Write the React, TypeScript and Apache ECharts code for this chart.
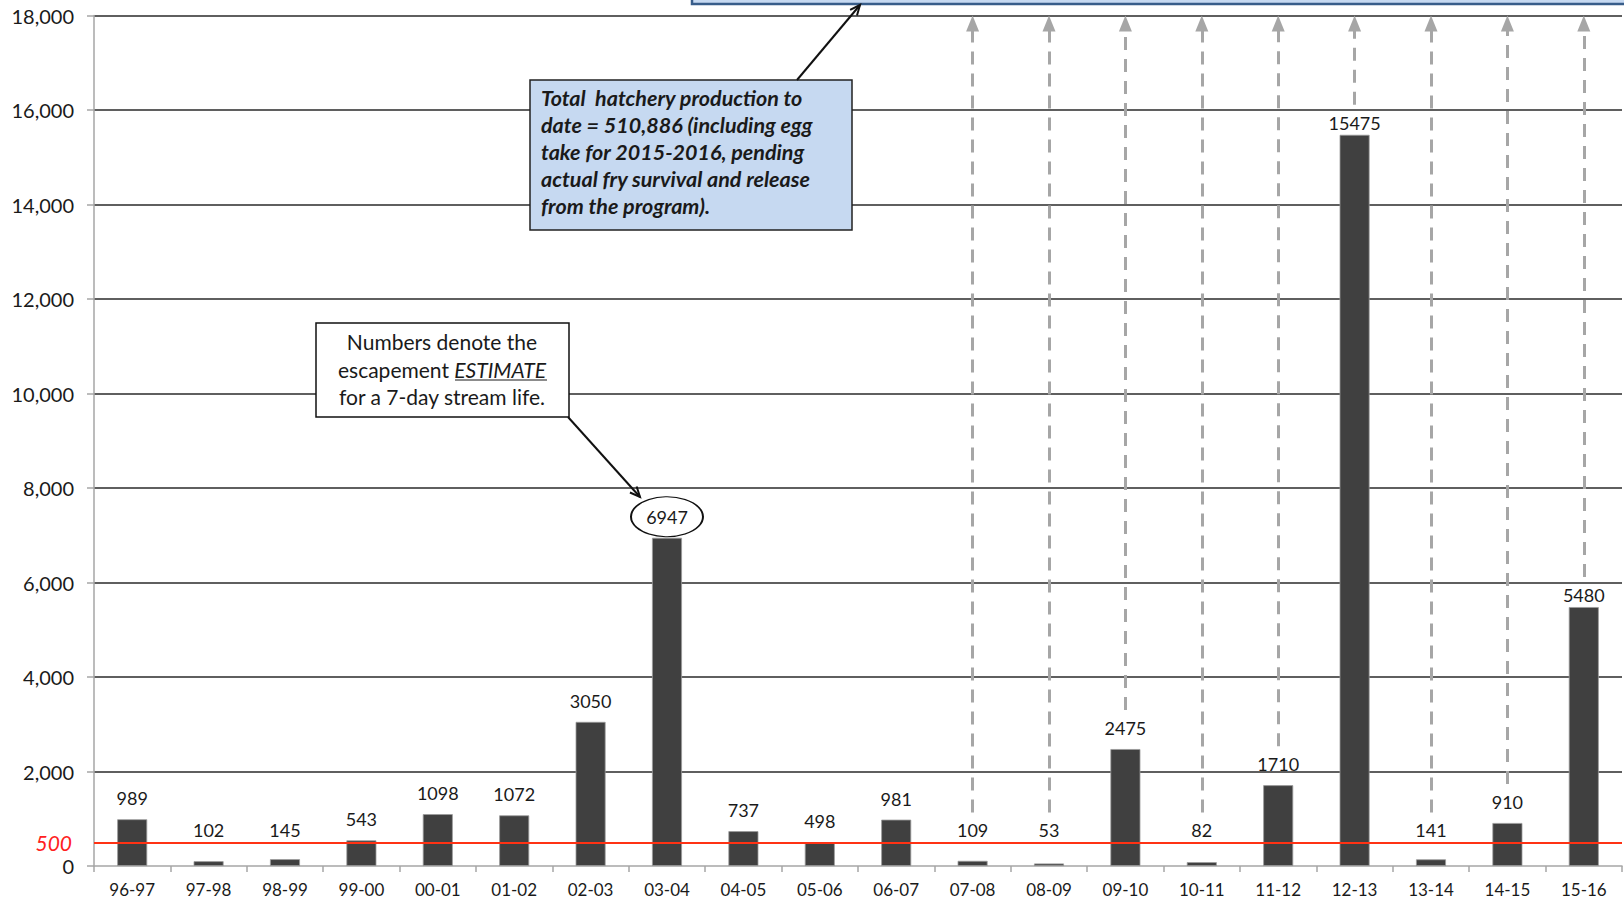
import React, { useEffect, useRef } from "react";
import * as echarts from "echarts";

// ---- data ----
const categories = [
  "96-97", "97-98", "98-99", "99-00", "00-01", "01-02", "02-03", "03-04", "04-05", "05-06",
  "06-07", "07-08", "08-09", "09-10", "10-11", "11-12", "12-13", "13-14", "14-15", "15-16",
];
const escapement = [
  989, 102, 145, 543, 1098, 1072, 3050, 6947, 737, 498,
  981, 109, 53, 2475, 82, 1710, 15475, 141, 910, 5480,
];
const threshold = 500;
const yMin = 0;
const yMax = 18000;
const yInterval = 2000;
const hatcheryCategories = ["07-08", "08-09", "09-10", "10-11", "11-12", "12-13", "13-14", "14-15", "15-16"];
const circledCategory = "03-04";
const tightLabelCategories = ["12-13", "15-16"];
const hatcheryNote = [
  "Total  hatchery production to",
  "date = 510,886 (including egg",
  "take for 2015-2016, pending",
  "actual fry survival and release",
  "from the program).",
];
const estimateNote = ["Numbers denote the", "escapement {it|ESTIMATE}", "for a 7-day stream life."];

// ---- layout ----
const W = 1624;
const H = 899;
const GRID = { left: 94, right: 2, top: 15.5, bottom: 33 };
const FONT = "Lato, 'Noto Sans', sans-serif";
const plotH = H - GRID.top - GRID.bottom;
const k = plotH / (yMax - yMin);
const yPx = (v: number) => H - GRID.bottom - (v - yMin) * k;
const vOf = (y: number) => (H - GRID.bottom - y) / k + yMin;

const labelCenter = (c: string, v: number) => {
  const top = yPx(v);
  if (tightLabelCategories.includes(c)) return top - 12;
  return Math.min(top - 21, yPx(threshold) - 12);
};

function arrow(x1: number, y1: number, x2: number, y2: number) {
  const a = Math.atan2(y2 - y1, x2 - x1);
  const L = 11;
  const s = 0.42;
  return [
    { type: "line", shape: { x1, y1, x2, y2 }, style: { stroke: "#111", lineWidth: 2 }, silent: true, z: 12 },
    {
      type: "polyline",
      shape: {
        points: [
          [x2 - L * Math.cos(a - s), y2 - L * Math.sin(a - s)],
          [x2, y2],
          [x2 - L * Math.cos(a + s), y2 - L * Math.sin(a + s)],
        ],
      },
      style: { stroke: "#111", lineWidth: 2, fill: null },
      silent: true,
      z: 12,
    },
  ];
}

export default function App() {
  const ref = useRef<HTMLDivElement>(null);
  useEffect(() => {
    if (!ref.current) return;
    const chart = echarts.init(ref.current, undefined, { renderer: "svg" });

    const barData = categories.map((c, i) => {
      const v = escapement[i];
      const center = labelCenter(c, v);
      return {
        value: v,
        label: { show: c !== circledCategory, distance: yPx(v) - center - 10 },
      };
    });

    const arrowLines = hatcheryCategories.map((c) => {
      const i = categories.indexOf(c);
      const center = labelCenter(c, escapement[i]);
      return [
        { coord: [c, vOf(center - 18)], symbol: "none" },
        { coord: [c, yMax - 8 / k], symbol: "triangle", symbolSize: [13, 16] },
      ];
    });

    const ci = categories.indexOf(circledCategory);

    const option: any = {
      animation: false,
      backgroundColor: "#ffffff",
      grid: { ...GRID, containLabel: false },
      xAxis: {
        type: "category",
        data: categories,
        boundaryGap: true,
        axisLine: { lineStyle: { color: "#a6a6a6", width: 1.5 } },
        axisTick: { show: true, alignWithLabel: false, length: 6, lineStyle: { color: "#a6a6a6", width: 1.5 } },
        axisLabel: { color: "#1a1a1a", fontFamily: FONT, fontSize: 17, margin: 15 },
      },
      yAxis: {
        type: "value",
        min: yMin,
        max: yMax,
        interval: yInterval,
        axisLine: { show: true, lineStyle: { color: "#a6a6a6", width: 1.5 } },
        axisTick: { show: true, length: 7, lineStyle: { color: "#a6a6a6", width: 1.5 } },
        axisLabel: {
          color: "#1a1a1a",
          fontFamily: FONT,
          fontSize: 20,
          margin: 20,
          formatter: (v: number) => v.toLocaleString("en-US"),
        },
        splitLine: { show: true, showMinLine: false, lineStyle: { color: "#2a2a2a", width: 1.6 } },
      },
      series: [
        {
          type: "bar",
          data: barData,
          barWidth: 30,
          itemStyle: { color: "#404040", borderColor: "#9a9a9a", borderWidth: 0.8 },
          label: {
            show: true,
            position: "top",
            color: "#1a1a1a",
            fontFamily: FONT,
            fontSize: 18,
            lineHeight: 20,
          },
          silent: true,
          markLine: {
            silent: true,
            animation: false,
            symbol: ["none", "none"],
            label: { show: false },
            lineStyle: { color: "#a6a6a6", width: 3, type: [13, 9] },
            emphasis: { disabled: true },
            data: arrowLines,
          },
          z: 2,
        },
        {
          type: "line",
          data: [],
          silent: true,
          markLine: {
            silent: true,
            animation: false,
            symbol: ["none", "none"],
            emphasis: { disabled: true },
            lineStyle: { color: "#ff3214", width: 2, type: "solid" },
            label: {
              show: true,
              position: "start",
              distance: 22,
              formatter: String(threshold),
              color: "#ff2020",
              fontStyle: "italic",
              fontFamily: FONT,
              fontSize: 21,
            },
            data: [{ yAxis: threshold }],
          },
          z: 3,
        },
        {
          type: "scatter",
          data: [[circledCategory, escapement[ci]]],
          symbol: "circle",
          symbolSize: [72, 40],
          symbolOffset: [0, -21],
          itemStyle: { color: "#ffffff", borderColor: "#111111", borderWidth: 1.5, opacity: 1 },
          label: {
            show: true,
            position: "inside",
            formatter: (p: any) => String(p.value[1]),
            color: "#1a1a1a",
            fontFamily: FONT,
            fontSize: 18,
          },
          silent: true,
          z: 5,
        },
      ],
      graphic: [
        {
          type: "rect",
          shape: { x: 692, y: -30, width: 980, height: 34 },
          style: { fill: "#c6d9f1", stroke: "#385d8a", lineWidth: 2.5 },
          silent: true,
          z: 10,
        },
        ...arrow(797, 80, 860, 5),
        {
          type: "rect",
          shape: { x: 530, y: 80, width: 322, height: 150 },
          style: { fill: "#c6d9f1", stroke: "#222", lineWidth: 1.5 },
          silent: true,
          z: 10,
        },
        {
          type: "text",
          x: 541,
          y: 84,
          style: {
            text: hatcheryNote.join("\n"),
            font: `italic bold 21.5px ${FONT}`,
            lineHeight: 27,
            fill: "#1a1a1a",
            verticalAlign: "top",
          },
          silent: true,
          z: 11,
        },
        {
          type: "rect",
          shape: { x: 316, y: 323, width: 253, height: 94 },
          style: { fill: "#ffffff", stroke: "#111", lineWidth: 1.5 },
          silent: true,
          z: 10,
        },
        {
          type: "text",
          x: 442,
          y: 328,
          style: {
            text: estimateNote.join("\n"),
            fontFamily: FONT,
            fontSize: 21,
            lineHeight: 27.5,
            fill: "#1a1a1a",
            align: "center",
            verticalAlign: "top",
            rich: {
              it: { fontStyle: "italic", fontFamily: FONT, fontSize: 21, lineHeight: 27.5, fill: "#1a1a1a" },
            },
          },
          silent: true,
          z: 11,
        },
        {
          type: "line",
          shape: { x1: 455, y1: 380, x2: 547, y2: 380 },
          style: { stroke: "#1a1a1a", lineWidth: 1.2 },
          silent: true,
          z: 11,
        },
        ...arrow(568, 417, 640, 497),
      ],
    };
    chart.setOption(option);
    return () => chart.dispose();
  }, []);
  return (
    <div
      ref={ref}
      style={{ position: "fixed", left: 0, top: 0, width: W + "px", height: H + "px", background: "#fff" }}
    />
  );
}
